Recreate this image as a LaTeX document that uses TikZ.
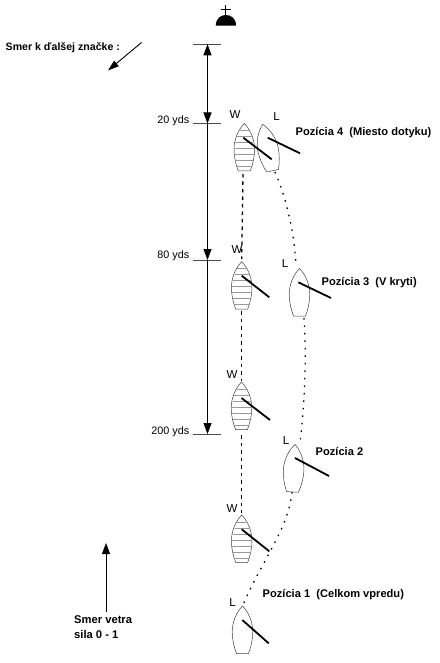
\documentclass[tikz,border=0pt]{standalone}
\usepackage{fontspec}
\setmainfont{Liberation Sans}
\usetikzlibrary{arrows.meta}
\tikzset{
  hull/.style={draw=black!75,line width=0.5pt,fill=white},
  stripe/.style={draw=black!40,line width=0.45pt},
  sail/.style={line width=1.8pt,black},
  tick/.style={line width=0.6pt,black!70},
  tip/.style={-{Triangle[length=11pt,width=8pt]},line width=0.9pt,black},
  wtrack/.style={line width=1.3pt,black,dash pattern=on 3.5pt off 4pt},
  ltrack/.style={line width=1.3pt,black,dash pattern=on 1.5pt off 6pt},
  lab/.style={inner sep=0pt,font=\fontsize{10.8}{12}\selectfont},
  blab/.style={inner sep=0pt,font=\fontsize{11.1}{12}\selectfont\bfseries},
  nextlab/.style={inner sep=0pt,font=\fontsize{10.6}{12}\selectfont\bfseries},
  windlab/.style={inner sep=0pt,align=left,font=\fontsize{11.2}{15}\selectfont\bfseries},
  boatlab/.style={inner sep=0pt,font=\fontsize{11.5}{12}\selectfont},
  pics/plainboat/.style={code={
    \draw[hull] (0,0) .. controls (6,6) and (10.3,16) .. (10.3,26) .. controls (10.3,33) and (8.5,41) .. (6,47.5) -- (-6,47.5) .. controls (-8.5,41) and (-10.3,33) .. (-10.3,26) .. controls (-10.3,16) and (-6,6) .. (0,0) -- cycle;
  }},
  pics/stripedboat/.style={code={
    \draw[hull] (0,0) .. controls (6,6) and (10.3,16) .. (10.3,26) .. controls (10.3,33) and (8.5,41) .. (6,47.5) -- (-6,47.5) .. controls (-8.5,41) and (-10.3,33) .. (-10.3,26) .. controls (-10.3,16) and (-6,6) .. (0,0) -- cycle;
    \foreach \yy/\hw in {7/4.6,13/7.2,19/9,25/10.1,31/9.9,37/8.8,43/7.4} \draw[stripe] (-\hw,\yy) -- (\hw,\yy);
  }},
}
\begin{document}
\begin{tikzpicture}[x=1pt,y=-1pt]
\useasboundingbox (0,0) rectangle (439,663);
\fill[white] (0,0) rectangle (439,663);

% mark
\fill[black] (215.7,25.7) .. controls (216,18) and (221,15) .. (225.8,15) .. controls (231,15) and (236,18) .. (236,25.7) -- cycle;
\draw[line width=0.9pt] (225.7,5) -- (225.7,16);
\draw[line width=0.9pt] (221,9.3) -- (231,9.3);

% distance scale
\coordinate (d0) at (207.5,44.3);
\coordinate (d1) at (207.5,123.5);
\coordinate (d2) at (207.5,260);
\coordinate (d3) at (207.5,434);
\draw[tick] (193,44.3) -- (221,44.3);
\draw[tick] (193,123.5) -- (221,123.5);
\draw[tick] (193,260) -- (221,260);
\draw[tick] (193,434) -- (221,434);
\draw[tip] (d1) -- (d0);
\draw[tip] (d0) -- (d1);
\draw[tip] (d1) -- (d2);
\draw[tip] (d2) -- (d3);
\node[lab,anchor=east] (y20) at (189.5,120.5) {20 yds};
\node[lab,anchor=east] (y80) at (189.5,255.5) {80 yds};
\node[lab,anchor=east] (y200) at (189.5,431.5) {200 yds};

% direction arrows
\coordinate (n1) at (141.5,42.5);
\coordinate (n2) at (108,70.5);
\draw[-{Triangle[length=11pt,width=7pt]},line width=0.9pt] (n1) -- (n2);
\coordinate (w1) at (106,612);
\coordinate (w2) at (106,543);
\draw[-{Triangle[length=11pt,width=8pt]},line width=0.9pt] (w1) -- (w2);
\node[nextlab,anchor=west] (next) at (5.5,47.5) {Smer k ďalšej značke :};
\node[windlab,anchor=north west] (wind) at (74,615) {Smer vetra\\sila 0 - 1};

% tracks
\draw[wtrack] (243,174) -- (241.7,259);
\draw[wtrack] (241.7,311) -- (241.7,381);
\draw[wtrack] (241.7,435) -- (241.7,513);
\draw[ltrack] (275,172) .. controls (283,190) and (294,225) .. (296,266);
\draw[ltrack] (304,318) .. controls (307,360) and (304,410) .. (300,443);
\draw[ltrack] (292,492) .. controls (288,530) and (262,560) .. (243,605);

% boats
\pic at (244.3,123.5) {stripedboat};
\pic[rotate=12] at (262.7,124.3) {plainboat};
\pic at (241.7,261.7) {stripedboat};
\pic at (299.5,268.5) {plainboat};
\pic at (241.5,382) {stripedboat};
\pic[rotate=-3] at (295,444.5) {plainboat};
\pic at (241.7,515) {stripedboat};
\pic at (242.5,606) {plainboat};

% sails
\draw[sail] (243.3,137.7) -- (271.7,159.3);
\draw[sail] (267.7,137.7) -- (300,153.3);
\draw[sail] (241.7,275.7) -- (269.3,297.3);
\draw[sail] (298.3,282.3) -- (331,298);
\draw[sail] (241.5,398) -- (270,420);
\draw[sail] (295,458) -- (329,476);
\draw[sail] (241.7,529.3) -- (269.3,551.3);
\draw[sail] (242.3,620) -- (268.7,643.3);

% boat letters
\node[boatlab] (w4) at (235,115) {W};
\node[boatlab] (l4) at (276.5,117) {L};
\node[boatlab] (w3) at (237,250) {W};
\node[boatlab] (l3) at (285,264) {L};
\node[boatlab] (w2l) at (232,375) {W};
\node[boatlab] (l2) at (286,441) {L};
\node[boatlab] (w1l) at (232,509) {W};
\node[boatlab] (l1) at (232.5,603) {L};

% position labels
\node[blab,anchor=west] (p4) at (295.5,132.5) {Pozícia 4\ \ (Miesto dotyku)};
\node[blab,anchor=west] (p3) at (321.5,282.5) {Pozícia 3\ \ (V kryti)};
\node[blab,anchor=west] (p2) at (315.5,451) {Pozícia 2};
\node[blab,anchor=west] (p1) at (262.5,595) {Pozícia 1\ \ (Celkom vpredu)};
\end{tikzpicture}
\end{document}
